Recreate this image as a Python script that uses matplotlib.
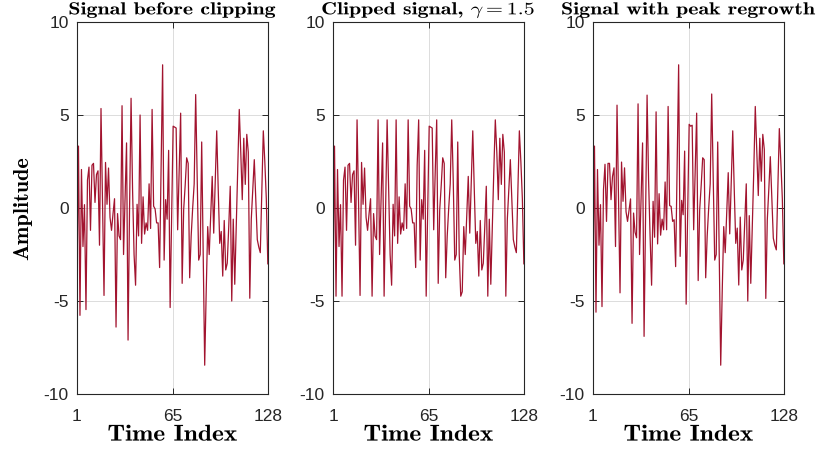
import numpy as np
import matplotlib
matplotlib.use("Agg")
import matplotlib.pyplot as plt
from matplotlib.patheffects import AbstractPathEffect
from matplotlib.transforms import Affine2D

plt.rcParams['axes.unicode_minus'] = False
plt.rcParams['mathtext.fontset'] = 'cm'

# values (128 samples each)
before = [-4.05, 3.33, -5.77, 2.07, -2.07, 0.18, -5.46, 1.5, 2.2, -1.2,
          2.3, 2.4, 0.3, 1.8, 2.0, -2.0, 5.35, 0.3, -4.7, 2.45,
          0.2, 2.15, -0.5, -1.2, -0.3, 0.5, -6.4, -0.3, -1.5, -1.7,
          5.5, -2.5, 0.5, 3.5, -7.1, 0.0, 5.9, 1.0, -2.5, -4.15,
          0.2, -1.5, 5.0, -1.9, 0.6, -1.4, -0.8, -1.2, 1.3, -1.1,
          5.3, 0.1, -0.05, -0.8, -0.8, -3.2, 2.3, 7.7, -2.8, 0.45,
          -0.6, 3.1, -5.35, -0.3, 4.4, 4.35, 4.3, -1.17, 1.9, 5.1,
          -4.05, -0.1, 1.2, 2.7, 2.4, -3.75, -1.5, 0.0, 1.3, 6.1,
          1.5, -2.8, -2.5, 3.55, -2.5, -8.45, -4.5, -1.0, -2.5, -0.4,
          1.7, -1.35, 1.4, 4.15, 1.0, -1.9, -1.26, -3.66, -0.67, -3.33,
          -2.97, -1.0, 1.17, -5.0, -0.6, -4.1, -1.0, 2.0, 5.3, 3.0,
          0.45, 3.75, 1.27, 3.96, 3.0, -4.85, -0.6, 1.0, 2.6, 0.5,
          -1.7, -2.1, -2.4, 1.0, 4.15, 2.5, 0.5, -3.0]

clipped = [-4.05, 3.33, -4.74, 2.07, -2.07, 0.18, -4.74, 1.5, 2.2, -1.2,
           2.3, 2.4, 0.3, 1.8, 2.0, -2.0, 4.74, 0.3, -4.7, 2.45,
           0.2, 2.15, -0.5, -1.2, -0.3, 0.5, -4.74, -0.3, -1.5, -1.7,
           4.74, -2.5, 0.5, 3.5, -4.74, 0.0, 4.74, 1.0, -2.5, -4.15,
           0.2, -1.5, 4.74, -1.9, 0.6, -1.4, -0.8, -1.2, 1.3, -1.1,
           4.74, 0.1, -0.05, -0.8, -0.8, -3.2, 2.3, 4.74, -2.8, 0.45,
           -0.6, 3.1, -4.74, -0.3, 4.4, 4.35, 4.3, -1.17, 1.9, 4.74,
           -4.05, -0.1, 1.2, 2.7, 2.4, -3.75, -1.5, 0.0, 1.3, 4.74,
           1.5, -2.8, -2.5, 3.55, -2.5, -4.74, -4.5, -1.0, -2.5, -0.4,
           1.7, -1.35, 1.4, 4.15, 1.0, -1.9, -1.26, -3.66, -0.67, -3.33,
           -2.97, -1.0, 1.17, -4.74, -0.6, -4.1, -1.0, 2.0, 4.74, 3.0,
           0.45, 3.75, 1.27, 3.96, 3.0, -4.74, -0.6, 1.0, 2.6, 0.5,
           -1.7, -2.1, -2.4, 1.0, 4.15, 2.5, 0.5, -3.0]

regrowth = [-3.9, 3.33, -5.6, 2.07, -2.0, 0.18, -5.3, 1.0, 2.35, -0.72,
            2.4, 2.4, 0.45, 1.7, 2.16, -2.07, 5.53, 0.4, -4.56, 2.47,
            0.36, 2.16, -0.2, -0.72, -0.1, 0.49, -6.2, -0.27, -1.3, -1.6,
            5.6, -2.5, 0.6, 3.5, -6.9, -0.3, 6.07, 1.5, -1.5, -4.15,
            0.36, -1.57, 5.17, -1.93, 0.77, -1.46, -0.6, -1.17, 1.4, -1.17,
            5.46, 0.13, 0.09, -0.72, -0.63, -3.15, 2.3, 7.7, -2.6, 0.41,
            -0.36, 3.06, -5.17, -0.3, 4.5, 4.4, 4.45, -1.17, 2.0, 5.1,
            -3.9, -0.1, 1.2, 2.7, 2.6, -3.75, -1.5, 0.0, 1.3, 6.13,
            1.5, -2.8, -2.5, 3.55, -2.5, -8.45, -4.5, -1.0, -2.4, -0.3,
            1.9, -1.39, 1.4, 4.15, 1.0, -1.9, -1.08, -4.14, -0.49, -3.33,
            -2.8, -0.8, 1.3, -5.0, -0.41, -4.05, -1.0, 2.0, 5.46, 3.0,
            0.67, 3.75, 1.44, 3.96, 3.16, -4.86, -0.63, 1.0, 2.76, 0.5,
            -1.62, -2.0, -2.25, 1.0, 4.27, 2.5, 0.5, -3.0]

titles = ["Signal before clipping", r"Clipped signal, $\gamma = 1.5$",
          "Signal with peak regrowth"]
xticks = [1, 65, 128]
yticks = [-10, -5, 0, 5, 10]


class StretchX(AbstractPathEffect):
    """widen a text path around its own centre (mimics the extended bold font)"""
    def __init__(self, sx):
        super().__init__()
        self.sx = sx

    def draw_path(self, renderer, gc, tpath, affine, rgbFace=None):
        ext = tpath.get_extents()
        cx = (ext.x0 + ext.x1) / 2
        pre = Affine2D().translate(-cx, 0).scale(self.sx, 1).translate(cx, 0)
        renderer.draw_path(gc, tpath, pre + affine, rgbFace)


idx = np.arange(1, len(before) + 1)
line_col = '#A2142F'
axis_col = '#262626'
cm_bold = ['cmb10', 'DejaVu Serif']

fig = plt.figure(figsize=(8.17, 4.53), dpi=100)
lefts = [0.0942, 0.4076, 0.7258]
axes = []
for left, data, title in zip(lefts, [before, clipped, regrowth], titles):
    ax = fig.add_axes([left, 0.1302, 0.2336, 0.8212])
    ax.plot(idx, data, color=line_col, lw=0.9)
    ax.set_xlim(1, 128)
    ax.set_ylim(-10, 10)
    ax.set_xticks(xticks)
    ax.set_yticks(yticks)
    ax.grid(True, color='#dcdcdc', lw=0.7)
    ax.set_axisbelow(True)
    ax.tick_params(direction='in', top=True, right=True, length=4,
                   width=0.7, colors=axis_col, labelsize=12.5)
    ax.tick_params(axis='x', pad=10.5)
    ax.tick_params(axis='y', pad=6)
    for lab in ax.get_xticklabels() + ax.get_yticklabels():
        lab.set_family(['Liberation Sans Narrow', 'Liberation Sans'])
    for sp in ax.spines.values():
        sp.set_color(axis_col)
        sp.set_linewidth(0.8)
    t = ax.set_title(title, fontsize=12.6, family=cm_bold, pad=5.5)
    t.set_path_effects([StretchX(1.25)])
    xl = ax.set_xlabel("Time Index", fontsize=16.5, family=cm_bold,
                       labelpad=0)
    xl.set_path_effects([StretchX(1.11)])
    axes.append(ax)

axes[0].set_ylabel("Amplitude", fontsize=16, family=cm_bold, labelpad=8)

fig.savefig("out.png", dpi=100)
